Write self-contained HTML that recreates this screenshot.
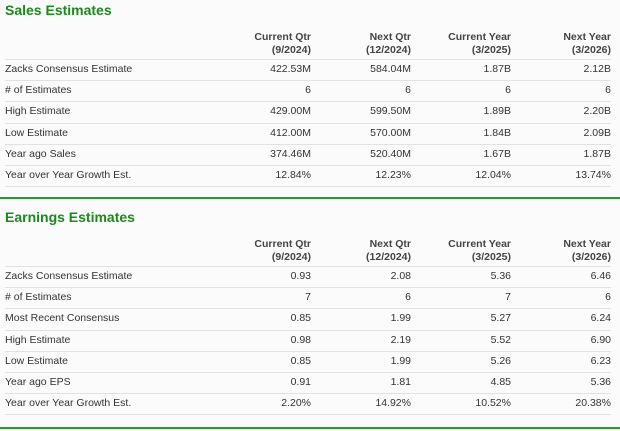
<!DOCTYPE html>
<html><head><style>
html,body{margin:0;padding:0;width:620px;height:431px;background:#fbfbfb;overflow:hidden;font-family:"Liberation Sans",Arial,sans-serif;color:#333;}
.t{position:absolute;left:5px;font-size:14px;font-weight:bold;color:#1a8a1a;}
.g{position:absolute;left:0;width:620px;height:2px;background:#2a9a2a;}
.s{position:absolute;left:5px;width:606px;height:1px;background:#e2e2e2;}
.c{position:absolute;font-size:10.5px;white-space:nowrap;line-height:13px;}
.r{text-align:right;width:100px;}
.h{font-weight:bold;color:#444;}
</style></head><body>
<div id="root"></div>
<script>
function build(top,title,rows){
  let h='';
  h+=`<div class="t" style="top:${top}px">${title}</div>`;
  const hdr=[["Current Qtr","(9/2024)"],["Next Qtr","(12/2024)"],["Current Year","(3/2025)"],["Next Year","(3/2026)"]];
  const rights=[311,411,511,611];
  hdr.forEach((x,i)=>{h+=`<div class="c r h" style="left:${rights[i]-100}px;top:${top+29}px">${x[0]}<br>${x[1]}</div>`;});
  let y=top+57;
  h+=`<div class="s" style="top:${y}px"></div>`;
  rows.forEach(r=>{
    h+=`<div class="c" style="left:5px;top:${y+4}px">${r[0]}</div>`;
    for(let i=1;i<5;i++)h+=`<div class="c r" style="left:${rights[i-1]-100}px;top:${y+4}px">${r[i]}</div>`;
    y+=21.2;
    h+=`<div class="s" style="top:${Math.round(y)}px"></div>`;
  });
  return h;
}
let html=build(2,"Sales Estimates",[
["Zacks Consensus Estimate","422.53M","584.04M","1.87B","2.12B"],
["# of Estimates","6","6","6","6"],
["High Estimate","429.00M","599.50M","1.89B","2.20B"],
["Low Estimate","412.00M","570.00M","1.84B","2.09B"],
["Year ago Sales","374.46M","520.40M","1.67B","1.87B"],
["Year over Year Growth Est.","12.84%","12.23%","12.04%","13.74%"]]);
html+=`<div class="g" style="top:197px"></div>`;
html+=build(209,"Earnings Estimates",[
["Zacks Consensus Estimate","0.93","2.08","5.36","6.46"],
["# of Estimates","7","6","7","6"],
["Most Recent Consensus","0.85","1.99","5.27","6.24"],
["High Estimate","0.98","2.19","5.52","6.90"],
["Low Estimate","0.85","1.99","5.26","6.23"],
["Year ago EPS","0.91","1.81","4.85","5.36"],
["Year over Year Growth Est.","2.20%","14.92%","10.52%","20.38%"]]);
html+=`<div class="g" style="top:427px"></div>`;
document.getElementById('root').innerHTML=html;
</script>
</body></html>
